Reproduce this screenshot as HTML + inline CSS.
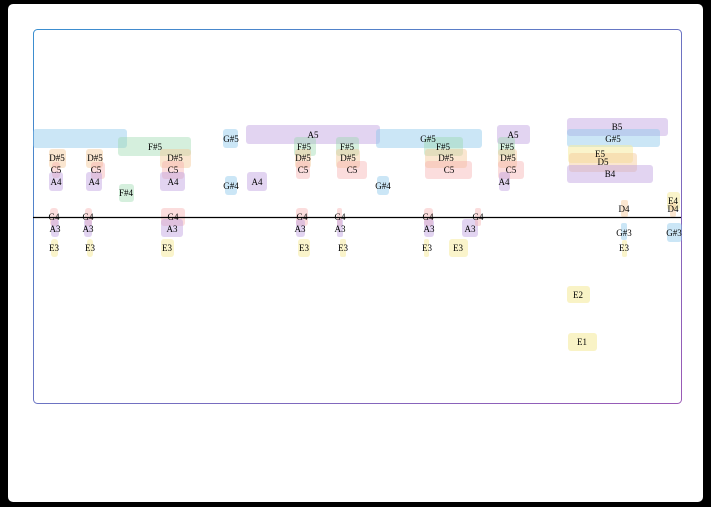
<!DOCTYPE html>
<html><head><meta charset="utf-8"><style>
html,body{margin:0;padding:0;background:#000;}
svg{display:block;}
text{font-family:"Liberation Serif",serif;font-size:9px;fill:#000;text-anchor:middle;dominant-baseline:central;}
</style></head><body>
<svg width="711" height="507" viewBox="0 0 711 507" xmlns="http://www.w3.org/2000/svg">
<defs>
<linearGradient id="bg" x1="0" y1="0" x2="1" y2="1">
<stop offset="0" stop-color="#3a8fd0"/><stop offset="1" stop-color="#9b59b6"/>
</linearGradient>
</defs>
<rect x="0" y="0" width="711" height="507" fill="#000"/>
<rect x="8" y="4" width="695" height="498" rx="5" fill="#fff"/>
<rect x="33.5" y="29.5" width="648" height="374" rx="4" fill="#fff" stroke="url(#bg)" stroke-width="1"/>
<g>
<rect x="33" y="129" width="94" height="19" rx="3" fill="rgba(140,200,235,0.45)"/>
<rect x="118" y="137" width="73" height="19" rx="3" fill="rgba(150,215,170,0.4)"/>
<rect x="49" y="149" width="17" height="19" rx="3" fill="rgba(245,200,150,0.45)"/>
<rect x="52" y="162" width="8" height="16" rx="3" fill="rgba(245,170,170,0.4)"/>
<rect x="49" y="172" width="14" height="19" rx="3" fill="rgba(190,160,225,0.45)"/>
<rect x="86" y="149" width="17" height="19" rx="3" fill="rgba(245,200,150,0.45)"/>
<rect x="91" y="162" width="14" height="17" rx="3" fill="rgba(245,170,170,0.4)"/>
<rect x="86" y="172" width="16" height="19" rx="3" fill="rgba(190,160,225,0.45)"/>
<rect x="119" y="184" width="15" height="18" rx="3" fill="rgba(150,215,170,0.4)"/>
<rect x="160" y="149" width="31" height="19" rx="3" fill="rgba(245,200,150,0.45)"/>
<rect x="162" y="161" width="22" height="18" rx="3" fill="rgba(245,170,170,0.4)"/>
<rect x="160" y="172" width="25" height="19" rx="3" fill="rgba(190,160,225,0.45)"/>
<rect x="223" y="129" width="15" height="19" rx="3" fill="rgba(140,200,235,0.45)"/>
<rect x="225" y="176" width="12" height="19" rx="3" fill="rgba(140,200,235,0.45)"/>
<rect x="247" y="172" width="20" height="19" rx="3" fill="rgba(190,160,225,0.45)"/>
<rect x="50" y="208" width="8" height="18" rx="3" fill="rgba(245,170,170,0.4)"/>
<rect x="51" y="219" width="8" height="18" rx="3" fill="rgba(190,160,225,0.45)"/>
<rect x="51" y="239" width="7" height="18" rx="3" fill="rgba(245,235,160,0.55)"/>
<rect x="85" y="208" width="7" height="18" rx="3" fill="rgba(245,170,170,0.4)"/>
<rect x="84" y="219" width="8" height="18" rx="3" fill="rgba(190,160,225,0.45)"/>
<rect x="87" y="239" width="6" height="18" rx="3" fill="rgba(245,235,160,0.55)"/>
<rect x="161" y="208" width="24" height="18" rx="3" fill="rgba(245,170,170,0.4)"/>
<rect x="161" y="219" width="22" height="18" rx="3" fill="rgba(190,160,225,0.45)"/>
<rect x="161" y="239" width="13" height="18" rx="3" fill="rgba(245,235,160,0.55)"/>
<rect x="246" y="125" width="134" height="19" rx="3" fill="rgba(190,160,225,0.45)"/>
<rect x="376" y="129" width="106" height="19" rx="3" fill="rgba(140,200,235,0.45)"/>
<rect x="294" y="137" width="22" height="19" rx="3" fill="rgba(150,215,170,0.4)"/>
<rect x="295" y="149" width="16" height="19" rx="3" fill="rgba(245,200,150,0.45)"/>
<rect x="296" y="161" width="14" height="18" rx="3" fill="rgba(245,170,170,0.4)"/>
<rect x="336" y="137" width="23" height="19" rx="3" fill="rgba(150,215,170,0.4)"/>
<rect x="336" y="149" width="24" height="19" rx="3" fill="rgba(245,200,150,0.45)"/>
<rect x="337" y="161" width="30" height="18" rx="3" fill="rgba(245,170,170,0.4)"/>
<rect x="377" y="176" width="12" height="19" rx="3" fill="rgba(140,200,235,0.45)"/>
<rect x="424" y="137" width="39" height="19" rx="3" fill="rgba(150,215,170,0.4)"/>
<rect x="425" y="149" width="42" height="19" rx="3" fill="rgba(245,200,150,0.45)"/>
<rect x="425" y="161" width="47" height="18" rx="3" fill="rgba(245,170,170,0.4)"/>
<rect x="497" y="125" width="33" height="19" rx="3" fill="rgba(190,160,225,0.45)"/>
<rect x="498" y="137" width="17" height="19" rx="3" fill="rgba(150,215,170,0.4)"/>
<rect x="498" y="149" width="19" height="19" rx="3" fill="rgba(245,200,150,0.45)"/>
<rect x="498" y="161" width="26" height="18" rx="3" fill="rgba(245,170,170,0.4)"/>
<rect x="499" y="172" width="11" height="19" rx="3" fill="rgba(190,160,225,0.45)"/>
<rect x="296" y="208" width="12" height="18" rx="3" fill="rgba(245,170,170,0.4)"/>
<rect x="296" y="219" width="9" height="18" rx="3" fill="rgba(190,160,225,0.45)"/>
<rect x="298" y="239" width="12" height="18" rx="3" fill="rgba(245,235,160,0.55)"/>
<rect x="337" y="208" width="5" height="18" rx="2" fill="rgba(245,170,170,0.4)"/>
<rect x="337" y="219" width="6" height="18" rx="2" fill="rgba(190,160,225,0.45)"/>
<rect x="340" y="239" width="6" height="18" rx="2" fill="rgba(245,235,160,0.55)"/>
<rect x="424" y="208" width="9" height="18" rx="3" fill="rgba(245,170,170,0.4)"/>
<rect x="424" y="219" width="10" height="18" rx="3" fill="rgba(190,160,225,0.45)"/>
<rect x="424" y="239" width="5" height="18" rx="2" fill="rgba(245,235,160,0.55)"/>
<rect x="449" y="239" width="19" height="18" rx="3" fill="rgba(245,235,160,0.55)"/>
<rect x="462" y="219" width="16" height="18" rx="3" fill="rgba(190,160,225,0.45)"/>
<rect x="475" y="208" width="6" height="18" rx="2" fill="rgba(245,170,170,0.4)"/>
<rect x="567" y="118" width="101" height="18" rx="3" fill="rgba(190,160,225,0.45)"/>
<rect x="567" y="129" width="93" height="18" rx="3" fill="rgba(140,200,235,0.45)"/>
<rect x="568" y="145" width="65" height="18" rx="3" fill="rgba(245,235,160,0.55)"/>
<rect x="569" y="153" width="68" height="19" rx="3" fill="rgba(245,200,150,0.45)"/>
<rect x="567" y="165" width="86" height="18" rx="3" fill="rgba(190,160,225,0.45)"/>
<rect x="621" y="200" width="7" height="17" rx="2" fill="rgba(245,200,150,0.45)"/>
<rect x="667" y="192" width="13" height="18" rx="3" fill="rgba(245,235,160,0.55)"/>
<rect x="670" y="202" width="6" height="15" rx="2" fill="rgba(245,200,150,0.45)"/>
<rect x="621" y="223" width="6" height="17" rx="2" fill="rgba(140,200,235,0.45)"/>
<rect x="622" y="240" width="5" height="17" rx="2" fill="rgba(245,235,160,0.55)"/>
<rect x="667" y="223" width="15" height="19" rx="3" fill="rgba(140,200,235,0.45)"/>
<rect x="567" y="286" width="23" height="17" rx="3" fill="rgba(245,235,160,0.6)"/>
<rect x="568" y="333" width="29" height="18" rx="3" fill="rgba(245,235,160,0.6)"/>
</g>
<line x1="33" y1="217.5" x2="681" y2="217.5" stroke="#000" stroke-width="1.2"/>
<g>
<text x="155" y="147">F#5</text>
<text x="57" y="158">D#5</text><text x="56" y="170">C5</text><text x="56" y="182">A4</text>
<text x="95" y="158">D#5</text><text x="96" y="170">C5</text><text x="94" y="182">A4</text>
<text x="126" y="193">F#4</text>
<text x="175" y="158">D#5</text><text x="173" y="170">C5</text><text x="173" y="182">A4</text>
<text x="231" y="139">G#5</text><text x="231" y="186">G#4</text><text x="257" y="182">A4</text>
<text x="54" y="217">G4</text><text x="55" y="229">A3</text><text x="54" y="248">E3</text>
<text x="88" y="217">G4</text><text x="88" y="229">A3</text><text x="90" y="248">E3</text>
<text x="173" y="217">G4</text><text x="172" y="229">A3</text><text x="167" y="248">E3</text>
<text x="313" y="135">A5</text><text x="428" y="139">G#5</text>
<text x="304" y="147">F#5</text><text x="303" y="158">D#5</text><text x="303" y="170">C5</text>
<text x="347" y="147">F#5</text><text x="348" y="158">D#5</text><text x="352" y="170">C5</text>
<text x="383" y="186">G#4</text>
<text x="443" y="147">F#5</text><text x="446" y="158">D#5</text><text x="449" y="170">C5</text>
<text x="513" y="135">A5</text><text x="507" y="147">F#5</text><text x="508" y="158">D#5</text><text x="511" y="170">C5</text><text x="504" y="182">A4</text>
<text x="302" y="217">G4</text><text x="300" y="229">A3</text><text x="304" y="248">E3</text>
<text x="340" y="217">G4</text><text x="340" y="229">A3</text><text x="343" y="248">E3</text>
<text x="428" y="217">G4</text><text x="429" y="229">A3</text><text x="427" y="248">E3</text>
<text x="458" y="248">E3</text><text x="470" y="229">A3</text><text x="478" y="217">G4</text>
<text x="617" y="127">B5</text><text x="613" y="139">G#5</text><text x="600" y="154">E5</text><text x="603" y="162">D5</text><text x="610" y="174">B4</text>
<text x="624" y="209">D4</text><text x="673" y="201">E4</text><text x="673" y="209">D4</text>
<text x="624" y="233">G#3</text><text x="624" y="248">E3</text><text x="674" y="233">G#3</text>
<text x="578" y="295">E2</text><text x="582" y="342">E1</text>
</g>
</svg>
</body></html>
